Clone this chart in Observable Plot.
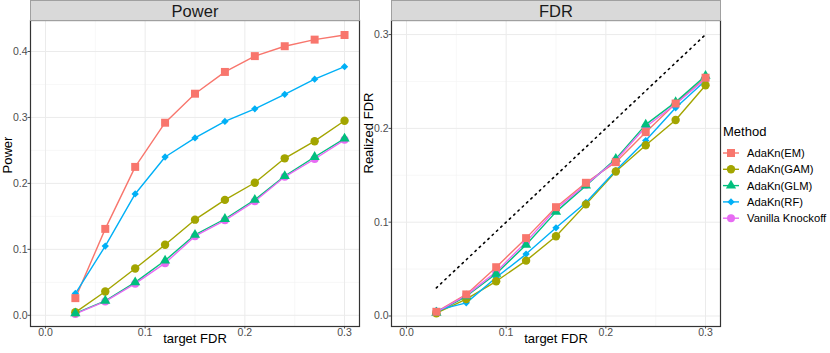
<!DOCTYPE html>
<html><head><meta charset="utf-8">
<script src="https://cdn.jsdelivr.net/npm/d3@7"></script>
<script src="https://cdn.jsdelivr.net/npm/@observablehq/plot@0.6"></script>
<style>
body{margin:0;background:#fff;}
#chart{position:relative;width:830px;height:353px;font-family:"Liberation Sans",Arial,sans-serif;}
#chart svg{position:absolute;top:0;}
.strip{position:absolute;top:0;height:21px;background:#D9D9D9;border:1px solid #A0A0A0;box-sizing:border-box;text-align:center;font-size:16.5px;line-height:20px;color:#1A1A1A;}
</style></head><body><div id="chart"></div>
<script>
// ---- data ----
const targetFDR = [0.03, 0.06, 0.09, 0.12, 0.15, 0.18, 0.21, 0.24, 0.27, 0.30];
const methods = ["AdaKn(EM)", "AdaKn(GAM)", "AdaKn(GLM)", "AdaKn(RF)", "Vanilla Knockoff"];
const colors = ["#F8766D", "#A3A500", "#00BF7D", "#00B0F6", "#E76BF3"];
const symbols = ["square", "circle", "triangle", "diamond2", "circle"];
const radii = [4.5, 4.2, 3.8, 3.3, 4.0];

const powerEM      = [0.026, 0.131, 0.225, 0.292, 0.336, 0.369, 0.393, 0.408, 0.418, 0.425];
const powerGAM     = [0.0045, 0.036, 0.071, 0.107, 0.145, 0.175, 0.201, 0.238, 0.264, 0.295];
const powerGLM     = [0.003, 0.022, 0.050, 0.083, 0.122, 0.146, 0.175, 0.211, 0.240, 0.268];
const powerRF      = [0.033, 0.105, 0.184, 0.240, 0.269, 0.294, 0.313, 0.335, 0.358, 0.377];
const powerVanilla = [0.002, 0.021, 0.048, 0.079, 0.120, 0.144, 0.173, 0.210, 0.237, 0.266];

const fdrEM      = [0.0045, 0.023, 0.052, 0.083, 0.116, 0.142, 0.164, 0.196, 0.2265, 0.254];
const fdrGAM     = [0.003, 0.018, 0.037, 0.059, 0.085, 0.119, 0.154, 0.182, 0.209, 0.246];
const fdrGLM     = [0.0035, 0.021, 0.045, 0.076, 0.111, 0.139, 0.1675, 0.204, 0.228, 0.256];
const fdrRF      = [0.006, 0.014, 0.041, 0.066, 0.094, 0.121, 0.155, 0.187, 0.222, 0.251];
const fdrVanilla = [0.004, 0.022, 0.047, 0.079, 0.114, 0.140, 0.166, 0.2015, 0.226, 0.253];

const xTicks = [0, 0.1, 0.2, 0.3];
const xMinor = [0.05, 0.15, 0.25];
const powerTicks = [0, 0.1, 0.2, 0.3, 0.4];
const powerMinor = [0.05, 0.15, 0.25, 0.35];
const fdrTicks = [0, 0.1, 0.2, 0.3];
const fdrMinor = [0.05, 0.15, 0.25];

const powerSeries = [powerEM, powerGAM, powerGLM, powerRF, powerVanilla];
const fdrSeries = [fdrEM, fdrGAM, fdrGLM, fdrRF, fdrVanilla];
const pointOrder = [4, 3, 1, 2, 0];

function rowsFor(series) {
  return series.map((vals, i) => vals.map((v, j) => ({method: methods[i], x: targetFDR[j], y: v})));
}

function panel({series, yDomain, yTicks, yMinor, yLabel, width, marginLeft, marginRight, extra = []}) {
  const rows = rowsFor(series);
  const marks = [
    Plot.ruleX(xMinor, {stroke: "#F2F2F2", strokeWidth: 0.6}),
    Plot.ruleY(yMinor, {stroke: "#F2F2F2", strokeWidth: 0.6}),
    Plot.ruleX(xTicks, {stroke: "#EBEBEB", strokeWidth: 1}),
    Plot.ruleY(yTicks, {stroke: "#EBEBEB", strokeWidth: 1}),
    Plot.axisX({ticks: xTicks, tickFormat: d3.format(".1f"), tickSize: 2.5, tickPadding: 0, label: null, fontSize: 10.5}),
    Plot.axisY({ticks: yTicks, tickFormat: d3.format(".1f"), tickSize: 2.5, tickPadding: 0.5, label: null, fontSize: 10.5}),
    ...extra
  ];
  rows.forEach((r, i) => marks.push(Plot.line(r, {x: "x", y: "y", stroke: colors[i], strokeWidth: 1.4})));
  pointOrder.forEach(i => marks.push(Plot.dot(rows[i], {x: "x", y: "y", fill: colors[i], symbol: symbols[i], r: radii[i]})));
  marks.push(Plot.frame({stroke: "#333333", strokeWidth: 1.2}));
  marks.push(Plot.text(["target FDR"], {text: d => d, frameAnchor: "bottom", dy: 16, fontSize: 13, fill: "#000"}));
  marks.push(Plot.text([yLabel], {text: d => d, frameAnchor: "left", rotate: -90, dx: -23, fontSize: 13, fill: "#000"}));
  return Plot.plot({
    width, height: 353,
    marginLeft, marginRight, marginTop: 20, marginBottom: 27,
    x: {domain: [-0.015, 0.315]},
    y: {domain: yDomain},
    style: {fontFamily: "Liberation Sans, Arial, sans-serif", fontSize: "10.5px", color: "#4D4D4D", background: "transparent", overflow: "visible"},
    marks
  });
}

const chart = document.getElementById("chart");

const left = panel({series: powerSeries, yDomain: [-0.017, 0.447], yTicks: powerTicks, yMinor: powerMinor, yLabel: "Power", width: 365, marginLeft: 30, marginRight: 6});
left.style.left = "0px";
chart.appendChild(left);

const right = panel({series: fdrSeries, yDomain: [-0.0112, 0.315], yTicks: fdrTicks, yMinor: fdrMinor, yLabel: "Realized FDR", width: 365, marginLeft: 31, marginRight: 5,
  extra: [Plot.line(targetFDR, {x: d => d, y: d => d, stroke: "#000", strokeWidth: 1.6, strokeDasharray: "1.5,4.4"})]});
right.style.left = "360px";
chart.appendChild(right);

// strips
[["Power", 30, 330], ["FDR", 391, 330]].forEach(([t, x, w]) => {
  const d = document.createElement("div");
  d.className = "strip";
  d.style.left = x + "px";
  d.style.width = w + "px";
  d.textContent = t;
  chart.appendChild(d);
});

// legend
const symMap = {square: d3.symbolSquare, circle: d3.symbolCircle, triangle: d3.symbolTriangle, diamond2: d3.symbolDiamond2};
const leg = d3.create("svg").attr("width", 110).attr("height", 110).style("left", "720px").style("top", "120px")
  .style("font-family", "Liberation Sans, Arial, sans-serif");
leg.append("text").attr("x", 3).attr("y", 11).attr("dy", "0.35em").attr("font-size", 13).attr("fill", "#000").text("Method");
methods.forEach((m, i) => {
  const y = 33 + i * 16.3;
  const g = leg.append("g");
  g.append("line").attr("x1", 3).attr("x2", 19).attr("y1", y).attr("y2", y).attr("stroke", colors[i]).attr("stroke-width", 1.4);
  g.append("path").attr("transform", `translate(11,${y})`)
    .attr("d", d3.symbol(symMap[symbols[i]], Math.PI * radii[i] * radii[i])()).attr("fill", colors[i]);
  g.append("text").attr("x", 27).attr("y", y).attr("dy", "0.35em").attr("font-size", 11.2).attr("fill", "#000").text(m);
});
chart.appendChild(leg.node());
</script></body></html>
